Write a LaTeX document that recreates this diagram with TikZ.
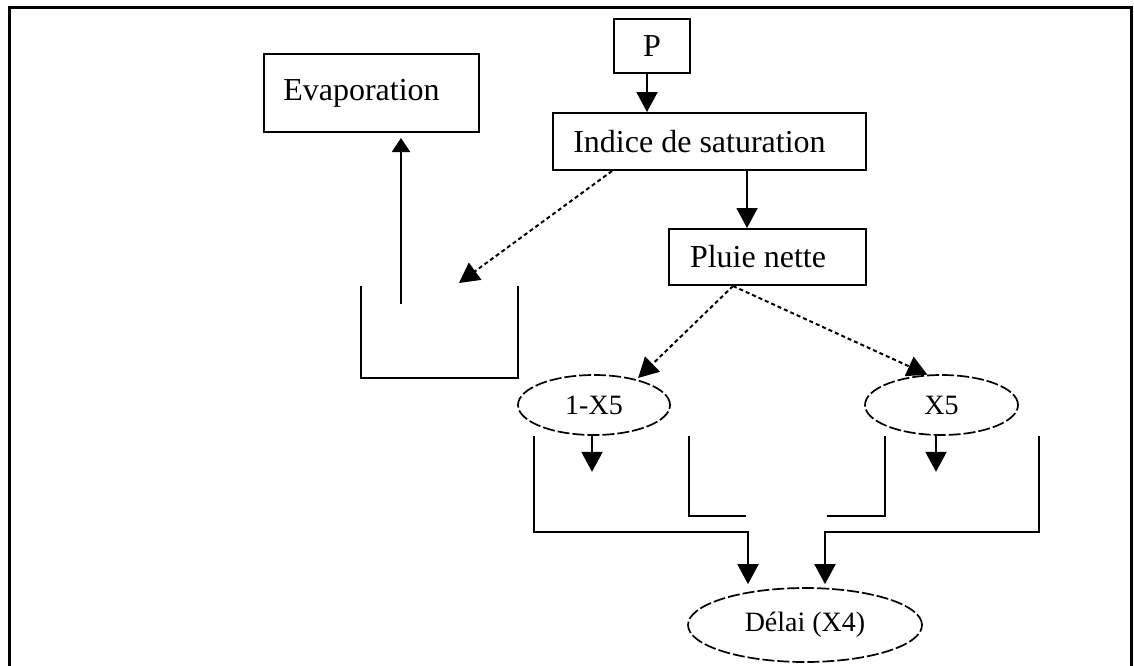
\documentclass[tikz,border=0pt]{standalone}
\usepackage{fontspec}
\setmainfont{Liberation Serif}
\usetikzlibrary{arrows.meta,shapes.geometric,calc}
\begin{document}
\begin{tikzpicture}[x=1pt,y=-1pt,
  box/.style={draw,line width=2pt,rectangle,inner sep=0pt,font=\fontsize{32}{36}\selectfont},
  oval/.style={draw,line width=1.7pt,ellipse,inner sep=0pt,dash pattern=on 12pt off 3pt,font=\fontsize{28}{32}\selectfont},
  conn/.style={line width=2pt},
  arr/.style={conn,-{Triangle[width=21pt,length=20pt]}},
  uparr/.style={conn,-{Triangle[width=18pt,length=14pt]}},
  dots/.style={line width=2pt,dash pattern=on 4pt off 3pt,-{Triangle[width=21pt,length=20pt]}},
]
\useasboundingbox (0,0) rectangle (1134,665);
\draw[line width=3pt] (9,690) -- (9,7) -- (1131,7) -- (1131,690);

\node[box,minimum width=76pt,minimum height=54pt] (P) at (652,46) {P};
\node[box,minimum width=215pt,minimum height=78pt] (E) at (371.5,93) {Evaporation\hspace*{20pt}};
\node[box,minimum width=313pt,minimum height=57pt] (I) at (709.5,141.5) {Indice de saturation\hspace*{20pt}};
\node[box,minimum width=197pt,minimum height=56pt] (N) at (767.5,257) {Pluie nette\hspace*{19pt}};
\node[oval,minimum width=152pt,minimum height=60pt] (L) at (594,405) {1-X5};
\node[oval,minimum width=153pt,minimum height=60pt] (R) at (941.5,405) {X5};
\node[oval,minimum width=234pt,minimum height=74pt] (D) at (805,625) {Délai (X4)};

% P -> Indice
\coordinate (Pa) at ([xshift=-5pt]P.south);
\draw[arr] (Pa) -- (Pa |- I.north);
% Indice -> Pluie nette
\coordinate (Ia) at ([xshift=37.5pt]I.south);
\draw[arr] (Ia) -- (Ia |- N.north);
% Indice -> reservoir (dotted)
\coordinate (Rin) at (459,283);
\draw[dots] ([xshift=-97.5pt]I.south) -- (Rin);
% reservoir
\draw[conn] (361,286) -- (361,378) -- (518,378) -- (518,286);
% reservoir -> Evaporation
\coordinate (Rout) at (401,304);
\draw[uparr,shorten >=5pt] (Rout) -- (Rout |- E.south);
% Pluie nette -> 1-X5 and X5 (dotted)
\coordinate (Na) at ([xshift=-34.5pt]N.south);
\draw[dots,shorten >=2pt] (Na) -- (L.31);
\draw[dots] (Na) -- (R.115);
% small arrows under ellipses
\draw[arr] ([xshift=-2pt]L.south) -- ++(0,36);
\draw[arr] ([xshift=-5.5pt]R.south) -- ++(0,36);
% brackets to Delai
\coordinate (a1) at (534,436);
\coordinate (a2) at (689,436);
\coordinate (b1) at (885,436);
\coordinate (b2) at (1039,436);
\coordinate (jl) at (748,532);
\coordinate (jr) at (825,532);
\draw[arr,shorten >=3pt] (a1) |- (jl) -- (jl |- D.north);
\draw[arr,shorten >=3pt] (b2) |- (jr) -- (jr |- D.north);
\draw[conn] (a2) |- (746,516);
\draw[conn] (b1) |- (827,516);
\end{tikzpicture}
\end{document}
